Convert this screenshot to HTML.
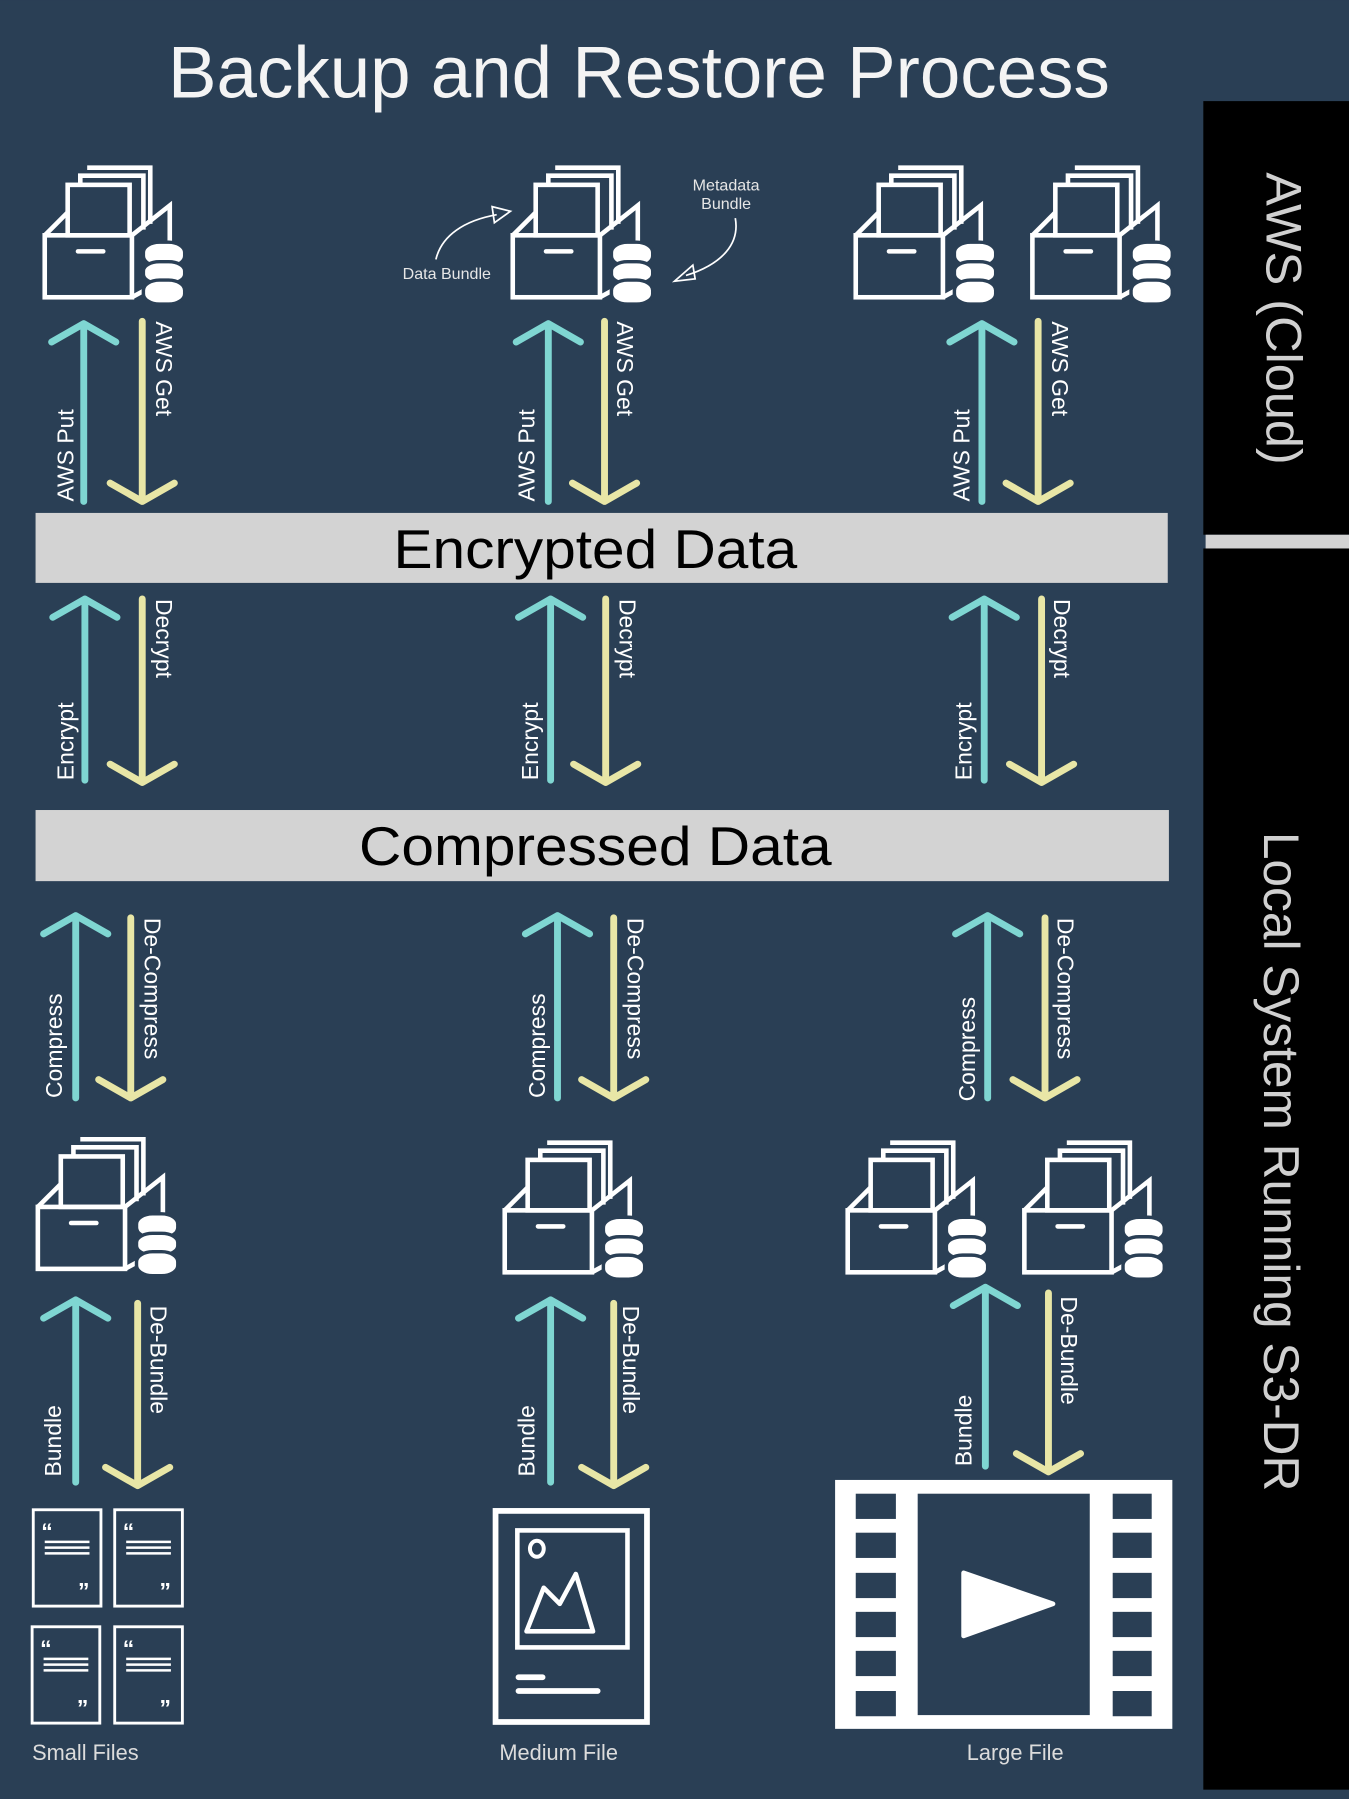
<!DOCTYPE html>
<html><head><meta charset="utf-8"><style>
html,body{margin:0;padding:0;background:#2a3f55;}
svg{display:block;}
text{font-family:"Liberation Sans",sans-serif;}
</style></head><body>
<svg width="1349" height="1799" viewBox="0 0 1176 1568" xmlns="http://www.w3.org/2000/svg">
<defs>
<g id="box">
  <g fill="none" stroke="#fff" stroke-width="4" stroke-linejoin="miter">
    <path d="M37,-59 H92 V-10"/>
    <path d="M31,-44 V-52 H86 V-5"/>
    <rect x="20" y="-44" width="54" height="44" fill="#2a3f55"/>
    <path d="M0,0 L20,-20"/>
    <path d="M76,0 L109,-26 V36 L76,54"/>
    <rect x="0" y="0" width="76" height="54"/>
    <path d="M29,14 H51" stroke-linecap="round"/>
  </g>
  <g stroke="#2a3f55" stroke-width="3" fill="#fff">
    <rect x="86" y="6" width="36" height="21" rx="14" ry="9"/>
    <rect x="86" y="23" width="36" height="19" rx="14" ry="8"/>
    <rect x="86" y="39" width="36" height="21" rx="14" ry="9"/>
  </g>
</g>
<g id="doc">
  <rect x="0" y="0" width="59" height="84" fill="none" stroke="#fff" stroke-width="2.5"/>
  <text x="7" y="26" fill="#fff" font-size="20" font-weight="bold">“</text>
  <path d="M10,28 H49 M10,33 H49 M10,38 H49" stroke="#fff" stroke-width="2.2"/>
  <text x="39" y="78" fill="#fff" font-size="20" font-weight="bold">”</text>
</g>
</defs>

<rect width="1176" height="1568" fill="#2a3f55"/>
<text x="557" y="85" text-anchor="middle" fill="#f4f4f4" font-size="64" textLength="821" lengthAdjust="spacingAndGlyphs">Backup and Restore Process</text>

<!-- right bar -->
<rect x="1049" y="88" width="127" height="378" fill="#000"/>
<rect x="1051" y="466" width="125" height="12" fill="#d3d3d3"/>
<rect x="1049" y="478" width="127" height="1082" fill="#000"/>
<text transform="translate(1104,150) rotate(90)" fill="#d0d0d0" font-size="44" textLength="255" lengthAdjust="spacingAndGlyphs">AWS (Cloud)</text>
<text transform="translate(1102,725) rotate(90)" fill="#d0d0d0" font-size="44" textLength="575" lengthAdjust="spacingAndGlyphs">Local System Running S3-DR</text>

<!-- bars -->
<rect x="31" y="447" width="987" height="61" fill="#d3d3d3"/>
<text x="519" y="495" text-anchor="middle" font-size="48" fill="#000" textLength="352" lengthAdjust="spacingAndGlyphs">Encrypted Data</text>
<rect x="31" y="706" width="988" height="62" fill="#d3d3d3"/>
<text x="519" y="754" text-anchor="middle" font-size="48" fill="#000" textLength="412" lengthAdjust="spacingAndGlyphs">Compressed Data</text>

<!-- icons -->
<use href="#box" x="39" y="205"/>
<use href="#box" x="447" y="205"/>
<use href="#box" x="746" y="205"/>
<use href="#box" x="900" y="205"/>
<use href="#box" x="33" y="1052"/>
<use href="#box" x="440" y="1055"/>
<use href="#box" x="739" y="1055"/>
<use href="#box" x="893" y="1055"/>

<!-- annotations -->
<text x="351" y="243" fill="#e6e6e6" font-size="14">Data Bundle</text>
<path d="M380,226 C385,205 405,192 433,187" fill="none" stroke="#fff" stroke-width="1.5"/>
<path d="M429,180 L445,184 L431,194 Z" fill="none" stroke="#fff" stroke-width="1.5"/>
<text x="633" y="166" fill="#e6e6e6" font-size="14" text-anchor="middle">Metadata</text>
<text x="633" y="182" fill="#e6e6e6" font-size="14" text-anchor="middle">Bundle</text>
<path d="M641,190 C645,212 630,230 598,240" fill="none" stroke="#fff" stroke-width="1.5"/>
<path d="M604,231 L588,245 L606,243 Z" fill="none" stroke="#fff" stroke-width="1.5"/>

<!-- arrows -->
<g fill="none" stroke-width="6" stroke-linecap="round" stroke-linejoin="round">
<g stroke="#7fd6d2">
  <path d="M73,437 V282 M45,298 L73,282 L101,298"/>
  <path d="M478,437 V282 M450,298 L478,282 L506,298"/>
  <path d="M856,437 V282 M828,298 L856,282 L884,298"/>
  <path d="M74,680 V522 M46,538 L74,522 L102,538"/>
  <path d="M480,680 V522 M452,538 L480,522 L508,538"/>
  <path d="M858,680 V522 M830,538 L858,522 L886,538"/>
  <path d="M66,957 V798 M38,814 L66,798 L94,814"/>
  <path d="M486,957 V798 M458,814 L486,798 L514,814"/>
  <path d="M861,957 V798 M833,814 L861,798 L889,814"/>
  <path d="M66,1292 V1133 M38,1149 L66,1133 L94,1149"/>
  <path d="M480,1292 V1133 M452,1149 L480,1133 L508,1149"/>
  <path d="M859,1278 V1122 M831,1138 L859,1122 L887,1138"/>
</g>
<g stroke="#e8e6a6">
  <path d="M124,280 V437 M96,421 L124,437 L152,421"/>
  <path d="M527,280 V437 M499,421 L527,437 L555,421"/>
  <path d="M905,280 V437 M877,421 L905,437 L933,421"/>
  <path d="M124,522 V682 M96,666 L124,682 L152,666"/>
  <path d="M528,522 V682 M500,666 L528,682 L556,666"/>
  <path d="M908,522 V682 M880,666 L908,682 L936,666"/>
  <path d="M114,800 V957 M86,941 L114,957 L142,941"/>
  <path d="M535,800 V957 M507,941 L535,957 L563,941"/>
  <path d="M911,800 V957 M883,941 L911,957 L939,941"/>
  <path d="M120,1136 V1295 M92,1279 L120,1295 L148,1279"/>
  <path d="M535,1136 V1295 M507,1279 L535,1295 L563,1279"/>
  <path d="M914,1127 V1283 M886,1267 L914,1283 L942,1267"/>
</g>
</g>

<!-- labels -->
<g fill="#fff" font-size="20">
  <text transform="translate(64,437) rotate(-90)">AWS Put</text>
  <text transform="translate(466,437) rotate(-90)">AWS Put</text>
  <text transform="translate(845,437) rotate(-90)">AWS Put</text>
  <text transform="translate(136,280) rotate(90)">AWS Get</text>
  <text transform="translate(538,280) rotate(90)">AWS Get</text>
  <text transform="translate(917,280) rotate(90)">AWS Get</text>
  <text transform="translate(64,680) rotate(-90)">Encrypt</text>
  <text transform="translate(469,680) rotate(-90)">Encrypt</text>
  <text transform="translate(847,680) rotate(-90)">Encrypt</text>
  <text transform="translate(136,522) rotate(90)">Decrypt</text>
  <text transform="translate(540,522) rotate(90)">Decrypt</text>
  <text transform="translate(919,522) rotate(90)">Decrypt</text>
  <text transform="translate(54,957) rotate(-90)">Compress</text>
  <text transform="translate(475,957) rotate(-90)">Compress</text>
  <text transform="translate(850,960) rotate(-90)">Compress</text>
  <text transform="translate(126,800) rotate(90)">De-Compress</text>
  <text transform="translate(547,800) rotate(90)">De-Compress</text>
  <text transform="translate(922,800) rotate(90)">De-Compress</text>
  <text transform="translate(53,1287) rotate(-90)">Bundle</text>
  <text transform="translate(466,1287) rotate(-90)">Bundle</text>
  <text transform="translate(847,1278) rotate(-90)">Bundle</text>
  <text transform="translate(131,1138) rotate(90)">De-Bundle</text>
  <text transform="translate(543,1138) rotate(90)">De-Bundle</text>
  <text transform="translate(925,1130) rotate(90)">De-Bundle</text>
</g>

<!-- small files -->
<use href="#doc" x="29" y="1316"/>
<use href="#doc" x="100" y="1316"/>
<use href="#doc" x="28" y="1418"/>
<use href="#doc" x="100" y="1418"/>

<!-- medium file -->
<rect x="432" y="1317" width="132" height="184" fill="none" stroke="#fff" stroke-width="5"/>
<rect x="451" y="1334" width="96" height="102" fill="none" stroke="#fff" stroke-width="4"/>
<ellipse cx="468" cy="1350" rx="6" ry="7" fill="none" stroke="#fff" stroke-width="3.5"/>
<path d="M459,1422 L474,1384 L488,1398 L502,1372 L517,1422 Z" fill="none" stroke="#fff" stroke-width="4" stroke-linejoin="round"/>
<path d="M452,1462 H473 M452,1474 H521" stroke="#fff" stroke-width="5" stroke-linecap="round"/>

<!-- large file -->
<rect x="728" y="1290" width="294" height="217" fill="#fff"/>
<rect x="800" y="1302" width="150" height="193" fill="#2a3f55"/>
<g fill="#2a3f55">
  <rect x="746" y="1302" width="35" height="22"/><rect x="746" y="1336" width="35" height="22"/>
  <rect x="746" y="1371" width="35" height="22"/><rect x="746" y="1405" width="35" height="22"/>
  <rect x="746" y="1439" width="35" height="22"/><rect x="746" y="1474" width="35" height="22"/>
  <rect x="970" y="1302" width="34" height="22"/><rect x="970" y="1336" width="34" height="22"/>
  <rect x="970" y="1371" width="34" height="22"/><rect x="970" y="1405" width="34" height="22"/>
  <rect x="970" y="1439" width="34" height="22"/><rect x="970" y="1474" width="34" height="22"/>
</g>
<path d="M840,1371 L918,1398 L840,1426 Z" fill="#fff" stroke="#fff" stroke-width="4" stroke-linejoin="round"/>

<g fill="#dcdcdc" font-size="19">
  <text x="28" y="1534">Small Files</text>
  <text x="487" y="1534" text-anchor="middle">Medium File</text>
  <text x="885" y="1534" text-anchor="middle">Large File</text>
</g>
</svg>
</body></html>
